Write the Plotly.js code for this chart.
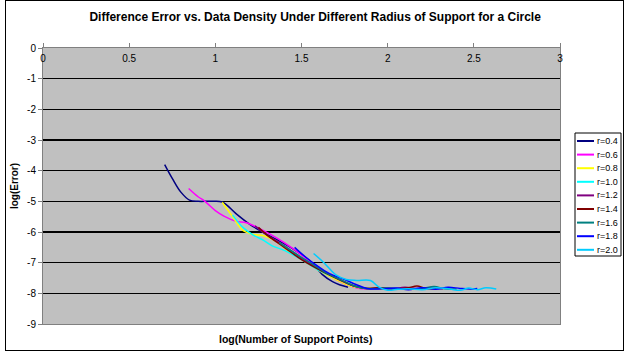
<!DOCTYPE html>
<html>
<head>
<meta charset="utf-8">
<script src="https://cdn.plot.ly/plotly-3.0.1.min.js"></script>
<style>
html,body{margin:0;padding:0;background:#fff;}
#wrap{position:relative;width:624px;height:354px;}
#chart{position:absolute;left:0;top:0;width:624px;height:354px;}
#frame{position:absolute;left:5px;top:0px;width:617px;height:349px;border:1px solid #000;pointer-events:none;}
</style>
</head>
<body>
<div id="wrap"><div id="chart"></div><div id="frame"></div></div>
<script>
const seriesNames = ["r=0.4","r=0.6","r=0.8","r=1.0","r=1.2","r=1.4","r=1.6","r=1.8","r=2.0"];
const seriesColors = ["#000080","#FF00FF","#FFFF00","#00FFFF","#800080","#800000","#008080","#0000FF","#00CCFF"];

const x_r04 = [0.706,0.75,0.80,0.85,0.90,0.97,1.04,1.12,1.20,1.28,1.355,1.45,1.55,1.62,1.68,1.72,1.77];
const y_r04 = [-3.80,-4.25,-4.70,-4.96,-5.00,-5.00,-5.02,-5.40,-5.75,-6.02,-6.24,-6.55,-6.95,-7.38,-7.62,-7.72,-7.80];

const x_r06 = [0.845,0.90,0.94,1.00,1.05,1.12,1.18,1.26,1.32,1.40,1.50,1.60,1.70,1.78,1.85,1.92,2.00,2.05];
const y_r06 = [-4.58,-4.85,-5.00,-5.30,-5.48,-5.65,-5.70,-5.90,-6.08,-6.35,-6.75,-7.20,-7.55,-7.75,-7.85,-7.84,-7.86,-7.84];

const x_r08 = [1.04,1.10,1.16,1.22,1.28,1.35,1.42,1.50,1.60,1.70,1.78,1.85,1.92,1.98,2.05];
const y_r08 = [-5.03,-5.50,-5.95,-6.08,-6.12,-6.30,-6.60,-6.90,-7.25,-7.55,-7.75,-7.83,-7.82,-7.86,-7.84];

const x_r10 = [1.10,1.16,1.22,1.28,1.33,1.40,1.50,1.60,1.70,1.80,1.88,1.95,2.02,2.10,2.15];
const y_r10 = [-5.45,-5.85,-6.10,-6.27,-6.45,-6.60,-6.90,-7.25,-7.50,-7.75,-7.84,-7.83,-7.87,-7.84,-7.86];

const x_r12 = [1.23,1.30,1.40,1.50,1.60,1.70,1.80,1.88,1.95,2.02,2.10,2.18,2.25,2.32];
const y_r12 = [-5.80,-6.10,-6.45,-6.85,-7.20,-7.50,-7.75,-7.84,-7.82,-7.86,-7.80,-7.85,-7.82,-7.86];

const x_r14 = [1.25,1.30,1.40,1.50,1.62,1.72,1.80,1.87,1.95,2.05,2.12,2.17,2.22,2.28];
const y_r14 = [-5.85,-6.10,-6.50,-6.90,-7.28,-7.55,-7.75,-7.84,-7.82,-7.85,-7.82,-7.76,-7.84,-7.85];

const x_r16 = [1.37,1.45,1.55,1.65,1.75,1.83,1.90,2.00,2.10,2.20,2.27,2.33,2.40];
const y_r16 = [-6.35,-6.65,-7.00,-7.35,-7.62,-7.80,-7.85,-7.83,-7.86,-7.84,-7.78,-7.85,-7.86];

const x_r18 = [1.46,1.52,1.59,1.66,1.75,1.82,1.88,1.95,2.05,2.12,2.20,2.28,2.35,2.42,2.48,2.52];
const y_r18 = [-6.50,-6.80,-7.10,-7.35,-7.55,-7.72,-7.84,-7.86,-7.83,-7.88,-7.82,-7.87,-7.80,-7.84,-7.86,-7.84];

const x_r20 = [1.57,1.63,1.70,1.76,1.82,1.90,1.95,2.00,2.06,2.12,2.20,2.28,2.36,2.42,2.47,2.52,2.57,2.63];
const y_r20 = [-6.70,-7.00,-7.40,-7.55,-7.58,-7.58,-7.80,-7.90,-7.87,-7.85,-7.88,-7.82,-7.86,-7.90,-7.83,-7.88,-7.82,-7.86];

const xs = [x_r04,x_r06,x_r08,x_r10,x_r12,x_r14,x_r16,x_r18,x_r20];
const ys = [y_r04,y_r06,y_r08,y_r10,y_r12,y_r14,y_r16,y_r18,y_r20];

const xTickVals = [0,0.5,1,1.5,2,2.5,3];
const xTickText = ["0","0.5","1","1.5","2","2.5","3"];
const yTickVals = [0,-1,-2,-3,-4,-5,-6,-7,-8,-9];
const yTickText = ["0","-1","-2","-3","-4","-5","-6","-7","-8","-9"];

const FONT = "Arial, 'Liberation Sans', sans-serif";

const traces = seriesNames.map((name,i)=>({
  type:"scatter", mode:"lines", name:name, showlegend:false,
  x:xs[i], y:ys[i],
  line:{color:seriesColors[i], width:1.5, shape:"spline", smoothing:1}
}));

// Legend drawn in paper coordinates (plot area: 43..560 px wide, 48..324 px tall)
const W = 624, H = 354, ML = 43, MR = 64, MT = 48, MB = 30;
const pw = W - ML - MR, ph = H - MT - MB;
const px2x = p => (p - ML) / pw;
const py2y = p => (H - MB - p) / ph;

const legendShapes = [{type:"rect", xref:"paper", yref:"paper",
  x0:px2x(575), x1:px2x(621), y0:py2y(256), y1:py2y(133),
  line:{color:"#000", width:1}, fillcolor:"#ffffff", layer:"above"}];
const legendAnn = [];
seriesNames.forEach((name,i)=>{
  const py = 141 + i*13.6;
  legendShapes.push({type:"line", xref:"paper", yref:"paper",
    x0:px2x(577), x1:px2x(594), y0:py2y(py), y1:py2y(py),
    line:{color:seriesColors[i], width:2}, layer:"above"});
  legendAnn.push({text:name, xref:"paper", yref:"paper", x:px2x(595), y:py2y(py),
    xanchor:"left", yanchor:"middle", showarrow:false, borderpad:0, xshift:1,
    font:{family:FONT, size:9, color:"#000"}});
});

const layout = {
  width:W, height:H,
  margin:{l:ML, r:MR, t:MT, b:MB},
  paper_bgcolor:"#ffffff",
  plot_bgcolor:"#C0C0C0",
  font:{family:FONT, size:10, color:"#000"},
  title:{text:"<b>Difference Error vs. Data Density Under Different Radius of Support for a Circle</b>",
         font:{family:FONT, size:12, color:"#000"},
         x:0.505, xref:"container", xanchor:"center", y:0.952, yref:"container", yanchor:"middle"},
  xaxis:{range:[0,3], side:"top", tickvals:xTickVals, ticktext:xTickText,
         ticklabelposition:"inside", ticklabeloverflow:"allow", ticklabelstandoff:6,
         ticks:"outside", ticklen:4, tickcolor:"#808080",
         showgrid:false, zeroline:false, showline:true, linecolor:"#808080", linewidth:1, mirror:true,
         tickfont:{family:FONT, size:10, color:"#000"}, fixedrange:true},
  yaxis:{range:[-9,0], tickvals:yTickVals, ticktext:yTickText, ticklabeloverflow:"allow",
         ticks:"outside", ticklen:4, tickcolor:"#808080",
         showgrid:true, gridcolor:"#000000", gridwidth:1.5, zeroline:false,
         showline:true, linecolor:"#808080", linewidth:1, mirror:true,
         tickfont:{family:FONT, size:10, color:"#000"},
         title:{text:"<b>log(Error)</b>", font:{family:FONT, size:10, color:"#000"}, standoff:6},
         fixedrange:true},
  showlegend:false,
  shapes:legendShapes,
  annotations:[{text:"<b>log(Number of Support Points)</b>", xref:"paper", yref:"paper",
                x:0.489, y:-0.025, xanchor:"center", yanchor:"top", showarrow:false,
                font:{family:FONT, size:10.5, color:"#000"}}].concat(legendAnn)
};

Plotly.newPlot("chart", traces, layout, {displayModeBar:false, staticPlot:true});
</script>
</body>
</html>
